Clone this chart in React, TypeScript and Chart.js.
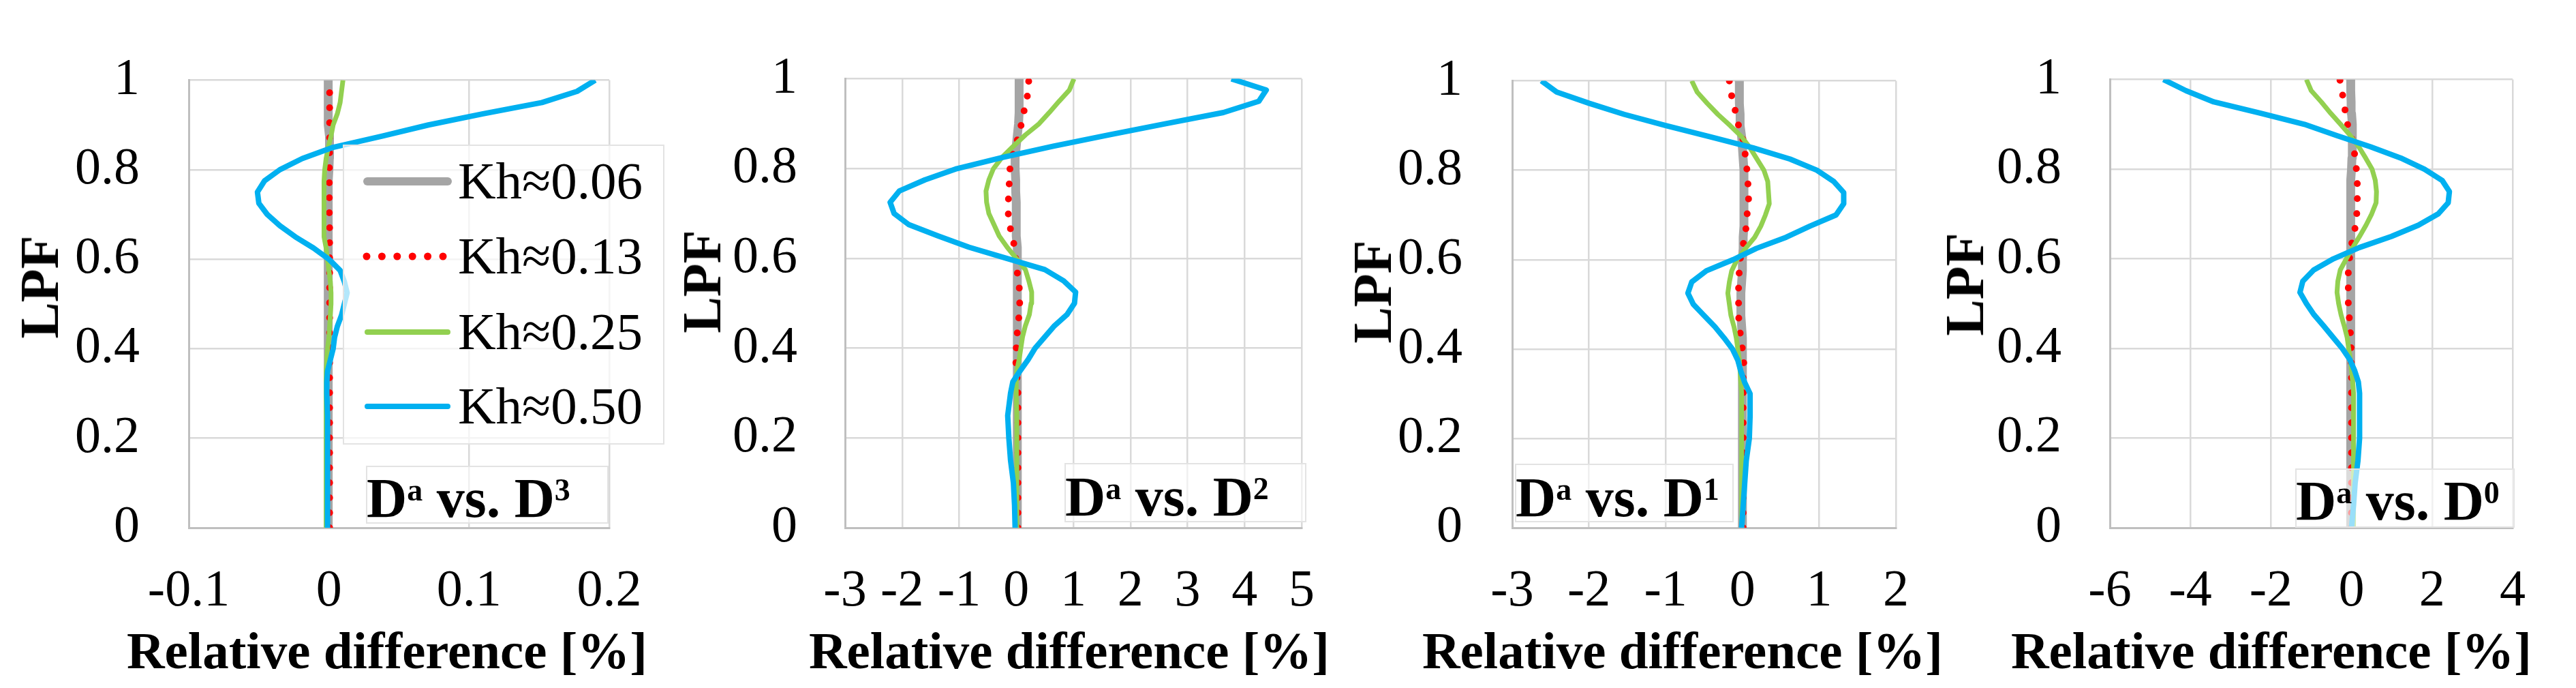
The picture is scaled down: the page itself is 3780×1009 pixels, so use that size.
import React, { useEffect, useRef } from "react";
import { Chart, registerables } from "chart.js";

Chart.register(...registerables);

// LPF levels (vertical axis) shared by every curve
const lpf = [
  0, 0.05, 0.1, 0.15, 0.2, 0.25, 0.3, 0.325, 0.35, 0.375, 0.4, 0.425, 0.45, 0.475, 0.5, 0.525, 0.55,
  0.575, 0.6, 0.625, 0.65, 0.675, 0.7, 0.725, 0.75, 0.775, 0.8, 0.825, 0.85, 0.875, 0.9, 0.925,
  0.95, 0.975, 1,
];

const seriesLabels = ["Kh≈0.06", "Kh≈0.13", "Kh≈0.25", "Kh≈0.50"];
const seriesColors = ["#a5a5a5", "#ff0000", "#92d050", "#00b0f0"];
const yTicks = [0, 0.2, 0.4, 0.6, 0.8, 1];
const xTitle = "Relative difference [%]";
const yTitle = "LPF";

// Da vs. D3  [%]
const d3Kh006 = [
  -0.0005, -0.0005, -0.0005, -0.0005, -0.0005, -0.0005, -0.0005, -0.0005, -0.0005, -0.0005, -0.0005,
  -0.0005, -0.0005, -0.0005, -0.0005, -0.0005, -0.0005, -0.0005, -0.0005, -0.0005, -0.0005, -0.0005,
  -0.0005, -0.0005, -0.0005, -0.0005, 0, 0.0003, 0.0005, 0.0003, -0.0005, -0.0005, -0.0005, -0.0005,
  -0.0005,
];
const d3Kh013 = [
  0.0005, 0.0005, 0.0005, 0.0005, 0.0005, 0.0005, 0.0005, 0.0005, 0.0005, 0.0005, 0.0005, 0.0005,
  0.0005, 0.0005, 0.0005, 0.0005, 0.0005, 0.0005, 0.0005, 0.0005, 0.0005, 0.0005, 0.0003, 0.0003,
  0.0003, 0.0003, 0.0003, 0.0005, 0.0005, 0.0005, 0.0005, 0.0005, 0.0005, 0.0005, 0.0005,
];
const d3Kh025 = [
  -0.002, -0.002, -0.002, -0.002, -0.002, -0.002, -0.002, -0.002, -0.002, -0.0015, -0.001, 0, 0.0005,
  0.001, 0.0015, 0.0015, 0.001, 0, -0.001, -0.002, -0.0035, -0.0035, -0.0035, -0.0035, -0.0035,
  -0.0035, -0.003, -0.002, -0.0005, 0.0015, 0.003, 0.006, 0.008, 0.009, 0.01,
];
const d3Kh050 = [
  -0.001, -0.001, -0.001, -0.001, -0.001, -0.001, -0.0015, -0.0015, -0.001, 0.001, 0.003, 0.004,
  0.006, 0.009, 0.011, 0.013, 0.011, 0.008, 0.0, -0.011, -0.024, -0.035, -0.044, -0.05, -0.051,
  -0.046, -0.035, -0.019, 0.003, 0.038, 0.071, 0.11, 0.152, 0.177, 0.19,
];

// Da vs. D2  [%]
const d2Kh006 = [
  0.02, 0.02, 0.02, 0.02, 0.02, 0.02, 0.02, 0.02, 0.02, 0.02, 0.02, 0.02, 0.02, 0.02, 0.02, 0.02,
  0.02, 0.01, 0.01, 0.01, 0.0, 0.0, 0.0, 0.0, -0.01, -0.01, -0.02, -0.02, 0.0, 0.02, 0.04, 0.05, 0.05,
  0.05, 0.05,
];
const d2Kh013 = [
  0.03, 0.03, 0.03, 0.03, 0.03, 0.03, 0.03, 0.02, 0.0, -0.01, 0.0, 0.01, 0.03, 0.05, 0.06, 0.06, 0.04,
  0.01, -0.01, -0.03, -0.07, -0.12, -0.14, -0.14, -0.13, -0.12, -0.11, -0.08, -0.02, 0.05, 0.09,
  0.13, 0.18, 0.21, 0.22,
];
const d2Kh025 = [
  0.01, 0.01, 0.01, 0.01, 0.01, 0.01, 0.0, 0.0, 0.01, 0.05, 0.08, 0.11, 0.16, 0.23, 0.26, 0.27, 0.22,
  0.16, 0.0, -0.16, -0.3, -0.39, -0.48, -0.52, -0.53, -0.48, -0.4, -0.25, -0.05, 0.16, 0.4, 0.58,
  0.75, 0.93, 1.01,
];
const d2Kh050 = [
  -0.02, -0.03, -0.05, -0.1, -0.13, -0.15, -0.1, -0.06, 0.07, 0.21, 0.33, 0.5, 0.67, 0.89, 1.02,
  1.04, 0.83, 0.5, -0.17, -0.83, -1.37, -1.88, -2.14, -2.21, -2.05, -1.6, -1.04, -0.24, 0.65, 1.62,
  2.62, 3.63, 4.25, 4.38, 3.77,
];

// Da vs. D1  [%]
const d1Kh006 = [
  0, 0, 0, 0, 0, 0, 0, 0, 0, 0, 0, 0, -0.01, -0.02, -0.02, -0.02, -0.01, 0, 0, 0.01, 0.01, 0.02, 0.02,
  0.02, 0.02, 0.02, 0.02, 0.01, 0, -0.01, -0.03, -0.03, -0.04, -0.04, -0.04,
];
const d1Kh013 = [
  0.01, 0.01, 0.01, 0.01, 0.01, 0.01, 0.01, 0.01, 0.01, 0.02, 0.0, -0.02, -0.04, -0.05, -0.05, -0.05,
  -0.05, -0.04, -0.03, 0.0, 0.03, 0.05, 0.06, 0.08, 0.08, 0.07, 0.06, 0.04, 0.03, 0.0, -0.05, -0.08,
  -0.12, -0.15, -0.17,
];
const d1Kh025 = [
  -0.01, -0.01, -0.01, -0.01, -0.01, -0.01, -0.01, -0.02, -0.03, -0.04, -0.06, -0.08, -0.11, -0.15,
  -0.17, -0.19, -0.17, -0.14, -0.07, 0.04, 0.16, 0.24, 0.3, 0.35, 0.34, 0.33, 0.28, 0.19, 0.1, -0.01,
  -0.16, -0.32, -0.46, -0.59, -0.66,
];
const d1Kh050 = [
  -0.01, 0.01, 0.03, 0.05, 0.09, 0.1, 0.1, 0.03, -0.02, -0.06, -0.13, -0.24, -0.36, -0.5, -0.64,
  -0.71, -0.66, -0.47, -0.12, 0.18, 0.57, 0.88, 1.22, 1.32, 1.32, 1.19, 0.97, 0.62, 0.14, -0.42, -1.0,
  -1.54, -2.0, -2.42, -2.62,
];

// Da vs. D0  [%]
const d0Kh006 = [
  -0.02, -0.02, -0.02, -0.02, -0.02, -0.02, -0.02, -0.02, -0.02, -0.02, -0.02, -0.02, -0.02, -0.02,
  -0.02, -0.02, -0.02, -0.02, -0.02, -0.02, -0.02, -0.02, -0.02, -0.02, -0.02, -0.02, 0.0, 0.01, 0.02,
  0.02, 0.02, 0.0, -0.01, -0.02, -0.02,
];
const d0Kh013 = [
  0, 0, 0, 0, 0, 0, 0, 0, 0, -0.01, -0.01, -0.02, -0.04, -0.06, -0.08, -0.08, -0.08, -0.08, -0.05,
  -0.02, 0.05, 0.1, 0.13, 0.14, 0.15, 0.14, 0.12, 0.09, 0.05, 0.0, -0.1, -0.15, -0.19, -0.24, -0.29,
];
const d0Kh025 = [
  0.05, 0.05, 0.05, 0.05, 0.05, 0.05, 0.05, 0.03, 0.0, -0.03, -0.07, -0.11, -0.18, -0.26, -0.32,
  -0.36, -0.34, -0.28, -0.13, 0.03, 0.2, 0.36, 0.5, 0.61, 0.62, 0.59, 0.51, 0.35, 0.18, -0.03, -0.27,
  -0.52, -0.75, -1.0, -1.12,
];
const d0Kh050 = [
  0.0, 0.05, 0.09, 0.16, 0.2, 0.2, 0.2, 0.17, 0.08, -0.04, -0.23, -0.46, -0.69, -0.93, -1.12, -1.28,
  -1.21, -0.94, -0.45, 0.19, 0.99, 1.66, 2.15, 2.4, 2.43, 2.25, 1.81, 1.22, 0.47, -0.37, -1.17,
  -2.27, -3.42, -4.11, -4.67,
];

const xTicksD3 = [-0.1, 0, 0.1, 0.2];
const xTicksD2 = [-3, -2, -1, 0, 1, 2, 3, 4, 5];
const xTicksD1 = [-3, -2, -1, 0, 1, 2];
const xTicksD0 = [-6, -4, -2, 0, 2, 4];

const serif = "'Liberation Serif', 'Times New Roman', serif";
const H = 1009;
const PLOT_TOP = 45;
const PLOT_BOTTOM = 774;
const ASC = 0.8375; // baseline offset of a line-height:1 box, in em

interface PanelDef {
  series: number[][];
  xTicks: number[];
  sup: string;
  left: number; // canvas left
  width: number; // canvas width
  plotLeft: number;
  plotRight: number;
  yTickPad: number;
  titleCenter: number;
  yTitleX: number;
  yTitleY: number;
  box: { left: number; top: number; width: number; height: number; baseline: number };
}

const panels: PanelDef[] = [
  {
    series: [d3Kh006, d3Kh013, d3Kh025, d3Kh050],
    xTicks: xTicksD3,
    sup: "3",
    left: 0,
    width: 990,
    plotLeft: 277,
    plotRight: 894,
    yTickPad: 72,
    titleCenter: 568,
    yTitleX: 58,
    yTitleY: 421,
    box: { left: 537, top: 683, width: 356, height: 85, baseline: 759 },
  },
  {
    series: [d2Kh006, d2Kh013, d2Kh025, d2Kh050],
    xTicks: xTicksD2,
    sup: "2",
    left: 950,
    width: 1056,
    plotLeft: 1240,
    plotRight: 1910,
    yTickPad: 70,
    titleCenter: 1569,
    yTitleX: 1030,
    yTitleY: 413,
    box: { left: 1562, top: 679, width: 355, height: 87, baseline: 757 },
  },
  {
    series: [d1Kh006, d1Kh013, d1Kh025, d1Kh050],
    xTicks: xTicksD1,
    sup: "1",
    left: 1930,
    width: 948,
    plotLeft: 2219,
    plotRight: 2782,
    yTickPad: 73,
    titleCenter: 2469,
    yTitleX: 2014,
    yTitleY: 428,
    box: { left: 2223, top: 680, width: 321, height: 86, baseline: 758 },
  },
  {
    series: [d0Kh006, d0Kh013, d0Kh025, d0Kh050],
    xTicks: xTicksD0,
    sup: "0",
    left: 2800,
    width: 980,
    plotLeft: 3096,
    plotRight: 3687,
    yTickPad: 71,
    titleCenter: 3333,
    yTitleX: 2883,
    yTitleY: 417,
    box: { left: 3368, top: 687, width: 322, height: 87, baseline: 763 },
  },
];

const lineWidths = [13, 10, 7, 8];

const Panel: React.FC<{ p: PanelDef }> = ({ p }) => {
  const canvasRef = useRef<HTMLCanvasElement>(null);

  useEffect(() => {
    if (!canvasRef.current) return;
    const points = (vals: number[]) => vals.map((v, i) => ({ x: v, y: lpf[i] }));
    const gridOpts = { color: "#d9d9d9", lineWidth: 2.5, drawTicks: false };
    const borderOpts = { color: "#bfbfbf", width: 3 };

    const chart = new Chart(canvasRef.current, {
      type: "line",
      data: {
        datasets: p.series.map((vals, i) => ({
          label: seriesLabels[i],
          data: points(vals),
          borderColor: seriesColors[i],
          backgroundColor: seriesColors[i],
          borderWidth: lineWidths[i],
          borderDash: i === 1 ? [0, 22] : [],
          borderCapStyle: i === 1 ? "round" : "butt",
          borderJoinStyle: "round",
          pointRadius: 0,
          tension: 0,
          order: 4 - i,
        })),
      },
      options: {
        animation: false,
        responsive: true,
        maintainAspectRatio: false,
        layout: {
          padding: {
            top: PLOT_TOP,
            left: 0,
            bottom: 0,
            right: p.width - (p.plotRight - p.left),
          },
        },
        plugins: { legend: { display: false }, tooltip: { enabled: false } },
        scales: {
          x: {
            type: "linear",
            min: p.xTicks[0],
            max: p.xTicks[p.xTicks.length - 1],
            afterBuildTicks: (s: any) => {
              s.ticks = p.xTicks.map((v) => ({ value: v }));
            },
            afterFit: (s: any) => {
              s.height = H - PLOT_BOTTOM;
            },
            grid: gridOpts,
            border: borderOpts,
            ticks: {
              color: "#000",
              padding: 48,
              maxRotation: 0,
              autoSkip: false,
              font: { family: serif, size: 76 },
              callback: (v: any) => String(v),
            },
            title: { display: false },
          },
          y: {
            type: "linear",
            min: 0,
            max: 1,
            afterBuildTicks: (s: any) => {
              s.ticks = yTicks.map((v) => ({ value: v }));
            },
            afterFit: (s: any) => {
              s.width = p.plotLeft - p.left;
            },
            grid: gridOpts,
            border: borderOpts,
            ticks: {
              color: "#000",
              padding: p.yTickPad,
              autoSkip: false,
              font: { family: serif, size: 76 },
              callback: (v: any) => String(v),
            },
            title: { display: false },
          },
        },
      } as any,
    });

    return () => chart.destroy();
  }, [p]);

  return (
    <div style={{ position: "absolute", left: p.left, top: 0, width: p.width, height: H }}>
      <canvas ref={canvasRef}></canvas>
    </div>
  );
};

// Legend drawn in the first panel
const legendCenters = [266, 376, 487, 596];
const legendDash = ["", "0 22.4", "", ""];

const Legend = () => (
  <>
    <div
      style={{
        position: "absolute",
        left: 503,
        top: 212,
        width: 472,
        height: 440,
        boxSizing: "border-box",
        border: "2px solid #e3e3e3",
        background: "rgba(255,255,255,0.7)",
        zIndex: 2,
      }}
    />
    {seriesLabels.map((label, i) => (
      <React.Fragment key={label}>
        <svg
          width={150}
          height={24}
          style={{ position: "absolute", left: 525, top: legendCenters[i] - 12, zIndex: 3 }}
        >
          <line
            x1={i === 1 ? 13 : 14}
            y1={12}
            x2={i === 1 ? 125 : 132}
            y2={12}
            stroke={seriesColors[i]}
            strokeWidth={i === 1 ? 11 : i === 0 ? 12 : 8}
            strokeLinecap="round"
            strokeDasharray={legendDash[i] || undefined}
          />
        </svg>
        <div
          style={{
            position: "absolute",
            left: 672,
            top: legendCenters[i] + 25 - ASC * 77,
            fontFamily: serif,
            fontSize: 77,
            lineHeight: 1,
            whiteSpace: "nowrap",
            color: "#000",
            zIndex: 3,
          }}
        >
          {label}
        </div>
      </React.Fragment>
    ))}
  </>
);

const supStyle: React.CSSProperties = {
  fontSize: 46,
  position: "relative",
  top: -24,
  verticalAlign: "baseline",
};

const PanelLabel: React.FC<{ p: PanelDef }> = ({ p }) => (
  <>
    <div
      style={{
        position: "absolute",
        left: p.box.left,
        top: p.box.top,
        width: p.box.width,
        height: p.box.height,
        boxSizing: "border-box",
        border: "2px solid #e3e3e3",
        background: "rgba(255,255,255,0.6)",
        zIndex: 2,
      }}
    />
    <div
      style={{
        position: "absolute",
        left: p.box.left + 1,
        top: p.box.baseline - ASC * 82,
        fontFamily: serif,
        fontWeight: "bold",
        fontSize: 82,
        lineHeight: 1,
        whiteSpace: "nowrap",
        color: "#000",
        zIndex: 3,
      }}
    >
      D<span style={supStyle}>a</span> vs. D<span style={supStyle}>{p.sup}</span>
    </div>
  </>
);

const boldText: React.CSSProperties = {
  position: "absolute",
  fontFamily: serif,
  fontWeight: "bold",
  lineHeight: 1,
  whiteSpace: "nowrap",
  color: "#000",
  zIndex: 3,
};

const AxisTitles: React.FC<{ p: PanelDef }> = ({ p }) => (
  <>
    <div
      style={{
        ...boldText,
        left: p.titleCenter,
        top: 980 - ASC * 77,
        transform: "translateX(-50%)",
        fontSize: 77,
      }}
    >
      {xTitle}
    </div>
    <div
      style={{
        ...boldText,
        left: p.yTitleX,
        top: p.yTitleY,
        transform: "translate(-50%, -50%) rotate(-90deg)",
        fontSize: 80,
      }}
    >
      {yTitle}
    </div>
  </>
);

export default function App() {
  return (
    <div
      style={{
        position: "fixed",
        left: 0,
        top: 0,
        width: 3780,
        height: H,
        background: "#fff",
        overflow: "hidden",
      }}
    >
      {panels.map((p, i) => (
        <Panel key={i} p={p} />
      ))}
      <Legend />
      {panels.map((p, i) => (
        <React.Fragment key={"t" + i}>
          <PanelLabel p={p} />
          <AxisTitles p={p} />
        </React.Fragment>
      ))}
    </div>
  );
}
